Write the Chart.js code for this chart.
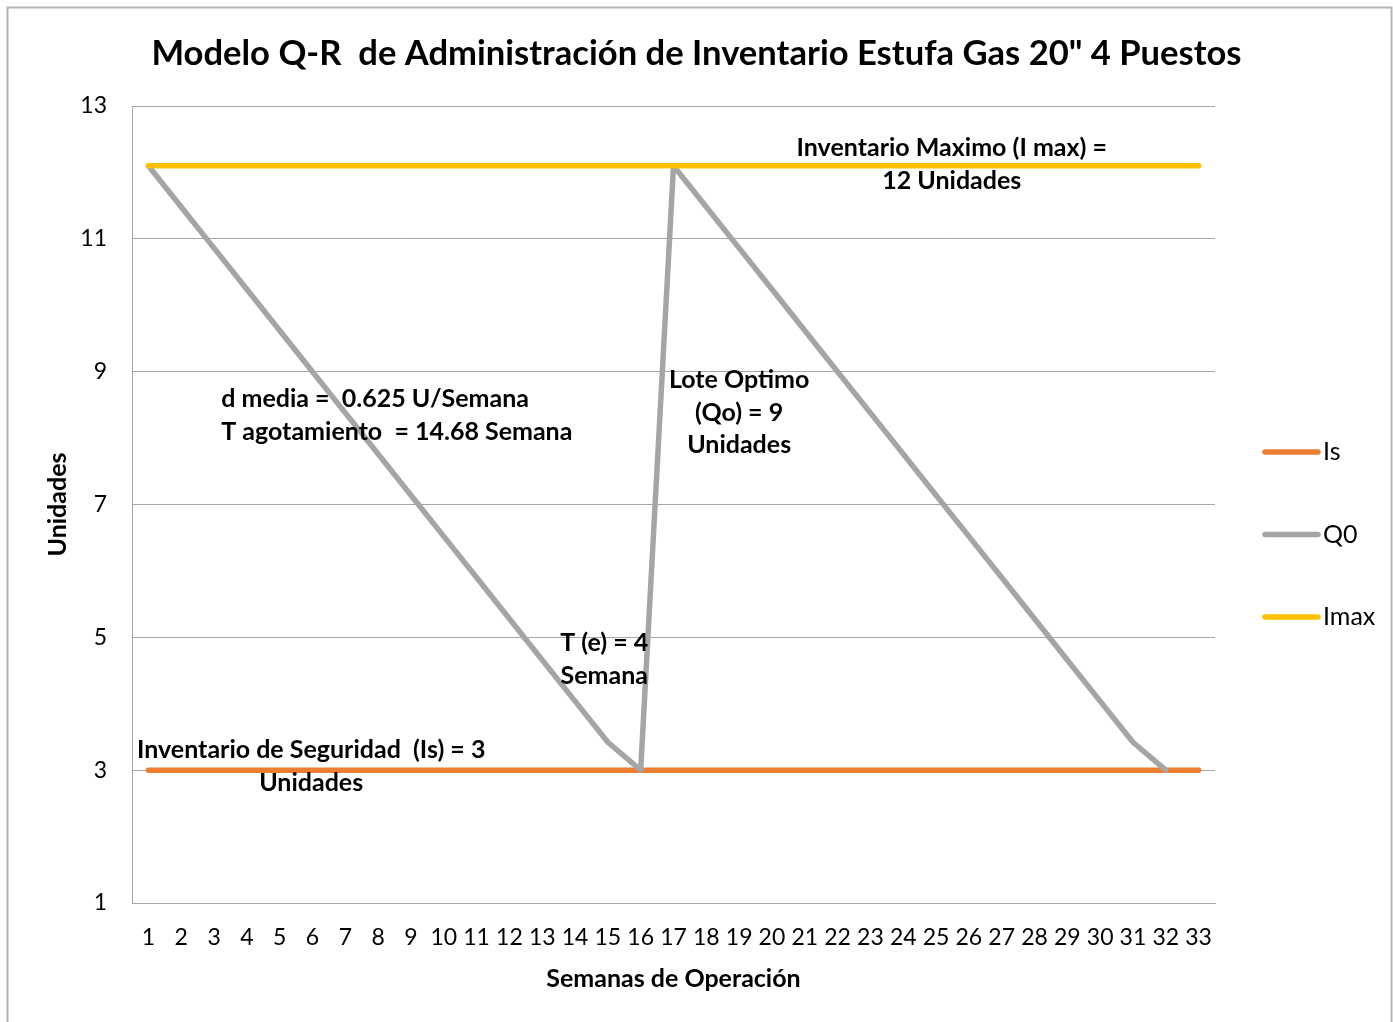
<!DOCTYPE html>
<html>
<head>
<meta charset="utf-8">
<script src="https://cdn.jsdelivr.net/npm/chart.js@4.4.0/dist/chart.umd.min.js"></script>
<style>
  html, body { margin: 0; padding: 0; background: #ffffff; }
  #wrap { position: absolute; left: 0; top: 0; width: 1393px; height: 1022px; }
</style>
</head>
<body>
<div id="wrap"><canvas id="c" width="1393" height="1022"></canvas></div>
<script>
// ---------- DATA ----------
const weeks = ['1','2','3','4','5','6','7','8','9','10','11','12','13','14','15','16','17',
               '18','19','20','21','22','23','24','25','26','27','28','29','30','31','32','33'];
const isValues = [3,3,3,3,3,3,3,3,3,3,3,3,3,3,3,3,3,3,3,3,3,3,3,3,3,3,3,3,3,3,3,3,3];
const q0Values = [12.1,11.48,10.86,10.24,9.62,9.0,8.38,7.76,7.14,6.52,5.9,5.28,4.66,4.04,3.42,3.0,
                  12.1,11.48,10.86,10.24,9.62,9.0,8.38,7.76,7.14,6.52,5.9,5.28,4.66,4.04,3.42,3.0,null];
const imaxValues = [12.1,12.1,12.1,12.1,12.1,12.1,12.1,12.1,12.1,12.1,12.1,12.1,12.1,12.1,12.1,12.1,12.1,
                    12.1,12.1,12.1,12.1,12.1,12.1,12.1,12.1,12.1,12.1,12.1,12.1,12.1,12.1,12.1,12.1];
const yTicks = [1,3,5,7,9,11,13];
const seriesNames = ['Is','Q0','Imax'];
const titleText = 'Modelo Q-R  de Administración de Inventario Estufa Gas 20" 4 Puestos';
const xTitle = 'Semanas de Operación';
const yTitle = 'Unidades';
// annotation texts, anchored at (category index, value)
const notes = [
  { x: 24.48, y: 12.37, align: 'center', lines: ['Inventario Maximo (I max) =', '12 Unidades'] },
  { x: 2.22,  y: 8.59,  align: 'left',   lines: ['d media =  0.625 U/Semana', 'T agotamiento  = 14.68 Semana'] },
  { x: 18.0,  y: 8.875, align: 'center', lines: ['Lote Optimo', '(Qo) = 9', 'Unidades'] },
  { x: 13.89, y: 4.915, align: 'center', lines: ['T (e) = 4', 'Semana'] },
  { x: 4.96,  y: 3.30,  align: 'center', lines: ['Inventario de Seguridad  (Is) = 3', 'Unidades'] }
];

// ---------- STYLE ----------
const FONT = 'Lato';
const COLORS = ['#ED7D31', '#A5A5A5', '#FFC000'];
const GRID = '#a6a6a6';

const framePlugin = {
  id: 'frame',
  beforeDraw(chart) {
    const ctx = chart.ctx;
    ctx.save();
    ctx.fillStyle = '#ffffff';
    ctx.fillRect(0, 0, chart.width, chart.height);
    ctx.strokeStyle = '#b4b4b4';
    ctx.lineWidth = 2;
    ctx.strokeRect(7.5, 7.5, 1384, 1100);
    ctx.restore();
  }
};

const notesPlugin = {
  id: 'notes',
  afterDatasetsDraw(chart) {
    const ctx = chart.ctx;
    const xs = chart.scales.x, ys = chart.scales.y;
    ctx.save();
    ctx.fillStyle = '#000000';
    ctx.font = 'bold 25px ' + FONT;
    ctx.textBaseline = 'middle';
    const lh = 32.7;
    notes.forEach(n => {
      const px = xs.getPixelForValue(n.x);
      const py = ys.getPixelForValue(n.y);
      ctx.textAlign = n.align;
      n.lines.forEach((t, i) => ctx.fillText(t, px, py + i * lh));
    });
    ctx.restore();
  }
};

const legendPlugin = {
  id: 'sideLegend',
  afterDraw(chart) {
    const ctx = chart.ctx;
    const x0 = chart.chartArea.right + 50;
    const yStart = 452, step = 82.5;
    ctx.save();
    ctx.font = '25px ' + FONT;
    ctx.textBaseline = 'middle';
    ctx.textAlign = 'left';
    chart.data.datasets.forEach((ds, i) => {
      const y = yStart + i * step;
      ctx.strokeStyle = ds.borderColor;
      ctx.lineWidth = 5.5;
      ctx.lineCap = 'round';
      ctx.beginPath();
      ctx.moveTo(x0, y);
      ctx.lineTo(x0 + 53, y);
      ctx.stroke();
      ctx.fillStyle = '#000000';
      ctx.fillText(ds.label, x0 + 58, y);
    });
    ctx.restore();
  }
};

const mkDs = (label, data, color, order) => ({
  label, data,
  borderColor: color, backgroundColor: color,
  borderWidth: 5.5, pointRadius: 0, pointHoverRadius: 0,
  borderCapStyle: 'round', borderJoinStyle: 'round',
  tension: 0, fill: false, spanGaps: false, order
});

new Chart(document.getElementById('c'), {
  type: 'line',
  data: {
    labels: weeks,
    datasets: [
      mkDs(seriesNames[0], isValues, COLORS[0], 2),
      mkDs(seriesNames[1], q0Values, COLORS[1], 1),
      mkDs(seriesNames[2], imaxValues, COLORS[2], 0)
    ]
  },
  options: {
    responsive: false,
    animation: false,
    devicePixelRatio: 1,
    layout: { padding: { left: 0, right: 0, top: 0, bottom: 0 } },
    plugins: {
      legend: { display: false },
      tooltip: { enabled: false },
      title: {
        display: true,
        text: titleText,
        color: '#000000',
        font: { family: FONT, size: 34.6, weight: 'bold' },
        padding: { top: 33, bottom: 31.5 }
      }
    },
    scales: {
      x: {
        type: 'category',
        offset: true,
        grid: { display: false, drawTicks: false },
        border: { display: true, color: GRID, width: 1 },
        ticks: {
          color: '#000000', font: { family: FONT, size: 23 },
          padding: 21, maxRotation: 0, minRotation: 0, autoSkip: false
        },
        title: {
          display: true, text: xTitle, color: '#000000',
          font: { family: FONT, size: 25, weight: 'bold' },
          padding: { top: 0, bottom: 28 }
        },
        afterFit(s) { s.height = 119; }
      },
      y: {
        min: 1, max: 13,
        afterBuildTicks(s) { s.ticks = yTicks.map(v => ({ value: v })); },
        grid: { color: GRID, lineWidth: 1, drawTicks: false },
        border: { display: true, color: GRID, width: 1 },
        ticks: { color: '#000000', font: { family: FONT, size: 23 }, padding: 25 },
        title: {
          display: true, text: yTitle, color: '#000000',
          font: { family: FONT, size: 25, weight: 'bold' },
          padding: { top: 43, bottom: 0 }
        },
        afterFit(s) { s.width = 132; }
      },
      legendSpace: {
        type: 'linear',
        position: 'right',
        display: true,
        grid: { display: false, drawTicks: false },
        border: { display: false },
        ticks: { display: false },
        afterFit(s) { s.width = 178; }
      }
    }
  },
  plugins: [framePlugin, notesPlugin, legendPlugin]
});
</script>
</body>
</html>
